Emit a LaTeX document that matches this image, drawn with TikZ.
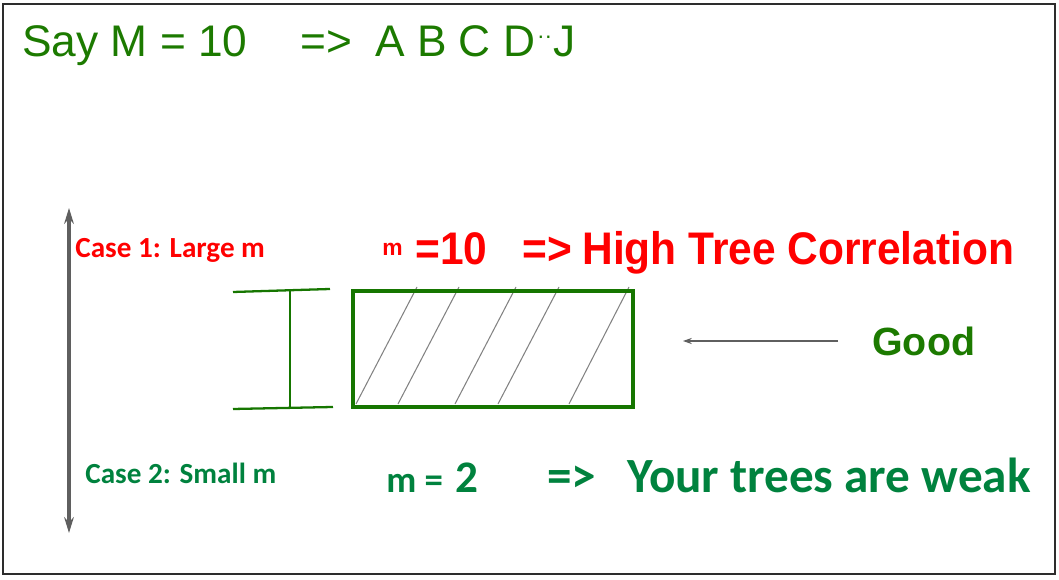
\documentclass[tikz,border=0pt]{standalone}
\usepackage{fontspec}
\setmainfont{Liberation Sans}
\newfontfamily\calib{Carlito}
\usetikzlibrary{arrows.meta}
\definecolor{topgreen}{RGB}{28,122,0}
\definecolor{boxgreen}{RGB}{22,118,0}
\definecolor{tealgreen}{RGB}{0,130,62}
\definecolor{hired}{RGB}{255,0,0}
\definecolor{arrgray}{RGB}{95,95,95}
\definecolor{hatchgray}{RGB}{130,130,130}
\definecolor{framegray}{RGB}{45,45,45}
\begin{document}
\begin{tikzpicture}[x=0.02cm,y=-0.02cm,
  txt/.style={inner sep=0pt,anchor=base west},
  toptext/.style={txt,text=topgreen,font=\fontsize{25.2}{30}\selectfont},
  casetext/.style={txt,font=\calib\bfseries\fontsize{16.6}{20}\selectfont},
  bigred/.style={txt,text=hired,font=\bfseries\fontsize{26}{31}\selectfont,xscale=0.93},
  biggreen/.style={txt,text=tealgreen,font=\calib\bfseries\fontsize{28}{32}\selectfont},
  hatch/.style={draw=hatchgray,line width=0.6pt},
  bracket/.style={draw=boxgreen,line width=1.3pt}]
\useasboundingbox (0,0) rectangle (1059,580);
% frame
\draw[framegray,line width=1.1pt] (3,4) rectangle (1055,574);
% top line
\node[toptext] (say) at (22,57) {Say M = 10};
\node[toptext] (imp) at (300,57) {=>};
\node[toptext] (abc) at (375,57) {A B C D\kern1pt\raisebox{0.3em}{\fontsize{13}{15}\selectfont ··}\kern1pt J};
% vertical double arrow
\coordinate (vtop) at (69,208);
\coordinate (vbot) at (69,533);
\draw[arrgray,line width=1.8pt,{Stealth[length=9pt,width=5.5pt]}-{Stealth[length=9pt,width=5.5pt]}] (vtop) -- (vbot);
% case labels
\node[casetext,text=hired] (case1) at (75,258) {Case 1: Large m};
\node[casetext,text=tealgreen] (case2) at (85,484) {Case 2: Small m};
% case 1 line
\node[txt,text=hired,font=\bfseries\fontsize{13}{15}\selectfont] (m1) at (382,256) {m};
\node[bigred] (eq10) at (415,265) {=10};
\node[bigred] (imp1) at (522,265) {=>};
\node[bigred] (htc) at (582,265) {High Tree Correlation};
% case 2 line
\node[txt,text=tealgreen,font=\calib\bfseries\fontsize{21}{25}\selectfont] (m2) at (386,493) {m =};
\node[txt,text=tealgreen,font=\calib\bfseries\fontsize{25.7}{30}\selectfont] (two) at (455,493) {2};
\node[biggreen] (imp2) at (547,493) {=>};
\node[biggreen] (weak) at (627,493) {Your trees are weak};
% hatched box
\draw[hatch] (356,404) -- (417,287);
\draw[hatch] (398,404) -- (459,287);
\draw[hatch] (455,404) -- (516,287);
\draw[hatch] (498,404) -- (559,287);
\draw[hatch] (569,404) -- (629,287);
\node[draw=boxgreen,line width=2.1pt,minimum width=280*0.02cm,minimum height=116*0.02cm,inner sep=0pt,anchor=north west] (box) at (351,289) {};
% bracket
\coordinate (bt1) at (233,292);
\coordinate (bt2) at (330,289);
\coordinate (bb1) at (233,409);
\coordinate (bb2) at (333,407);
\coordinate (bvt) at (290,290.5);
\coordinate (bvb) at (290,408);
\draw[bracket] (bt1) -- (bt2);
\draw[bracket] (bb1) -- (bb2);
\draw[bracket] (bvt) -- (bvb);
% Good arrow
\node[txt,text=topgreen,font=\bfseries\fontsize{22.4}{27}\selectfont] (good) at (872,356) {Good};
\coordinate (gs) at (838,341);
\coordinate (ge) at (683,341);
\draw[arrgray,line width=0.6pt,-{Stealth[length=5pt,width=3.5pt]}] (gs) -- (ge);
\end{tikzpicture}
\end{document}
